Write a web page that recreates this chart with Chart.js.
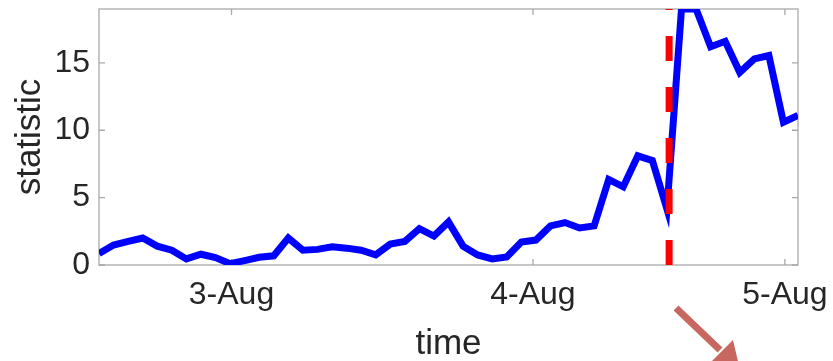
<!DOCTYPE html>
<html>
<head>
<meta charset="utf-8">
<script src="https://cdn.jsdelivr.net/npm/chart.js@4"></script>
<style>
  body { margin: 0; background: #fff; }
  #wrap { width: 833px; height: 361px; }
</style>
</head>
<body>
<div id="wrap"><canvas id="myChart"></canvas></div>
<script>
// sample index along the time axis
let samples = [0, 1, 2, 3, 4, 5, 6, 7, 8, 9, 10, 11, 12, 13, 14, 15, 16, 17, 18, 19, 20, 21, 22, 23, 24,
    25, 26, 27, 28, 29, 30, 31, 32, 33, 34, 35, 36, 37, 38, 39, 40, 41, 42, 43, 44, 45, 46, 47, 48]
let statistic = [0.85, 1.48, 1.75, 2.0, 1.4, 1.1, 0.45, 0.8, 0.55, 0.1, 0.33, 0.57, 0.68,
    2.0, 1.1, 1.16, 1.35, 1.25, 1.1, 0.75, 1.55, 1.75, 2.7, 2.15, 3.2,
    1.4, 0.75, 0.45, 0.6, 1.7, 1.85, 2.9, 3.15, 2.75, 2.9, 6.35, 5.8,
    8.1, 7.75, 4.15, 19.0, 19.0, 16.2, 16.6, 14.3, 15.3, 15.55, 10.6, 11.1]

let changePoint = 39.15
let xTickPos = [9.1, 29.8, 47.1]
let xTickLabels = ['3-Aug', '4-Aug', '5-Aug']
let yTickVals = [0, 5, 10, 15]
let yMax = 19

let textColor = '#262626'
let fontName = '"Liberation Sans", Arial, Helvetica, sans-serif'

let lineData = samples.map(function(s, i) {
    return { x: s, y: statistic[i] }
})

// matlab style box with inward ticks
let boxPlugin = {
    id: 'box',
    beforeDatasetsDraw(chart) {
        let ctx = chart.ctx
        let a = chart.chartArea
        let xs = chart.scales.x
        let ys = chart.scales.y
        ctx.save()
        ctx.strokeStyle = '#a9a9a9'
        ctx.lineWidth = 1.3
        ctx.strokeRect(a.left, a.top, a.right - a.left, a.bottom - a.top)
        ctx.beginPath()
        xTickPos.forEach(function(v) {
            let px = xs.getPixelForValue(v)
            ctx.moveTo(px, a.bottom); ctx.lineTo(px, a.bottom - 6)
            ctx.moveTo(px, a.top); ctx.lineTo(px, a.top + 6)
        })
        yTickVals.forEach(function(v) {
            let py = ys.getPixelForValue(v)
            ctx.moveTo(a.left, py); ctx.lineTo(a.left + 6, py)
            ctx.moveTo(a.right, py); ctx.lineTo(a.right - 6, py)
        })
        ctx.stroke()
        ctx.restore()
    },
    afterDraw(chart) {
        // the slide arrow in the lower right
        let ctx = chart.ctx
        ctx.save()
        ctx.strokeStyle = '#c8675f'
        ctx.fillStyle = '#c8675f'
        ctx.lineWidth = 7
        ctx.beginPath()
        ctx.moveTo(676, 308)
        ctx.lineTo(720, 350)
        ctx.stroke()
        ctx.beginPath()
        ctx.moveTo(733, 340)
        ctx.lineTo(710, 363)
        ctx.lineTo(740, 370)
        ctx.closePath()
        ctx.fill()
        ctx.restore()
    }
}

let myChart = new Chart(document.getElementById('myChart'), {
    type: 'line',
    data: {
        datasets: [{
                label: 'change',
                data: [{ x: changePoint, y: 0 }, { x: changePoint, y: yMax }],
                borderColor: '#ff0000',
                borderWidth: 7,
                borderDash: [25, 26],
                borderCapStyle: 'butt',
                pointRadius: 0,
                order: 0
            },
            {
                label: 'statistic',
                data: lineData,
                borderColor: '#0000ff',
                borderWidth: 7,
                tension: 0,
                pointRadius: 0,
                order: 1
            }
        ]
    },
    options: {
        responsive: true,
        maintainAspectRatio: false,
        animation: false,
        layout: { padding: { left: 0, top: 9, right: 35, bottom: 0 } },
        plugins: {
            legend: { display: false },
            tooltip: { enabled: false }
        },
        scales: {
            x: {
                type: 'linear',
                min: 0,
                max: 48,
                grid: { display: false, drawTicks: false },
                border: { display: false },
                afterBuildTicks: function(scale) {
                    scale.ticks = xTickPos.map(function(v) { return { value: v } })
                },
                afterFit: function(scale) {
                    scale.height = 96
                    scale.paddingLeft = 0
                    scale.paddingRight = 0
                },
                ticks: {
                    color: textColor,
                    font: { family: fontName, size: 32 },
                    padding: 11,
                    maxRotation: 0,
                    autoSkip: false,
                    callback: function(value, index) { return xTickLabels[index] }
                },
                title: {
                    display: true,
                    text: 'time',
                    color: textColor,
                    font: { family: fontName, size: 35, lineHeight: 1 },
                    padding: { top: 0, bottom: -1 }
                }
            },
            y: {
                min: 0,
                max: yMax,
                grid: { display: false, drawTicks: false },
                border: { display: false },
                afterBuildTicks: function(scale) {
                    scale.ticks = yTickVals.map(function(v) { return { value: v } })
                },
                afterFit: function(scale) {
                    scale.width = 99
                    scale.paddingTop = 0
                    scale.paddingBottom = 0
                },
                ticks: {
                    color: textColor,
                    font: { family: fontName, size: 32 },
                    padding: 9
                },
                title: {
                    display: true,
                    text: 'statistic',
                    color: textColor,
                    font: { family: fontName, size: 35, lineHeight: 1 },
                    padding: { top: 13, bottom: 0 }
                }
            }
        }
    },
    plugins: [boxPlugin]
})
</script>
</body>
</html>
